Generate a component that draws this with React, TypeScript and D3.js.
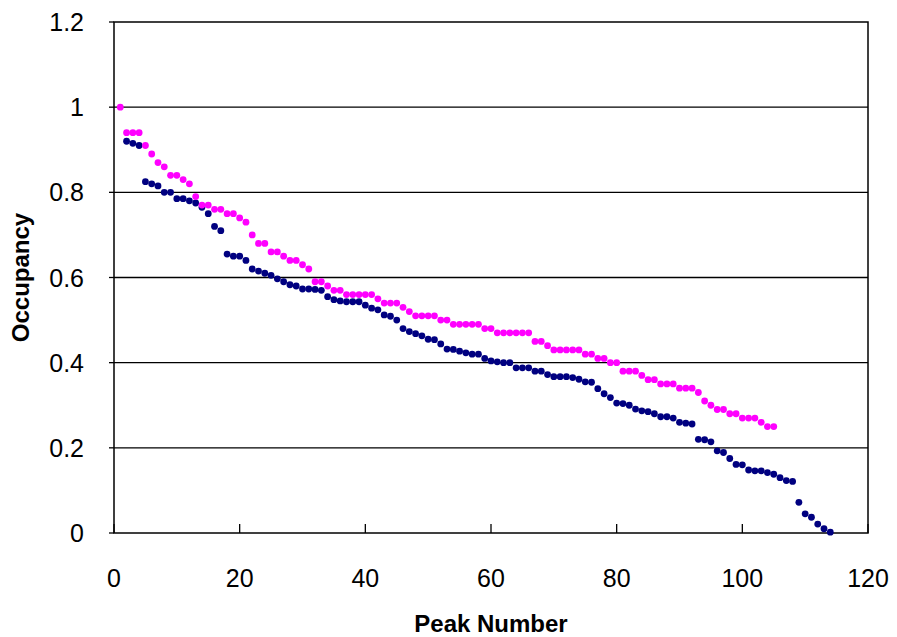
import React from "react";
import { scaleLinear } from "d3";

const width = 897;
const height = 637;

// occupancy of peaks, series 1 (magenta) starts at peak 1
const pinkValues = [
  1.0, 0.94, 0.94, 0.94, 0.91, 0.89, 0.87, 0.86, 0.84, 0.84,
  0.83, 0.82, 0.79, 0.77, 0.77, 0.76, 0.76, 0.75, 0.75, 0.74,
  0.73, 0.7, 0.68, 0.68, 0.66, 0.66, 0.65, 0.64, 0.64, 0.63,
  0.62, 0.59, 0.59, 0.58, 0.57, 0.57, 0.56, 0.56, 0.56, 0.56,
  0.56, 0.55, 0.54, 0.54, 0.54, 0.53, 0.52, 0.51, 0.51, 0.51,
  0.51, 0.5, 0.5, 0.49, 0.49, 0.49, 0.49, 0.49, 0.48, 0.48,
  0.47, 0.47, 0.47, 0.47, 0.47, 0.47, 0.45, 0.45, 0.44, 0.43,
  0.43, 0.43, 0.43, 0.43, 0.42, 0.42, 0.41, 0.41, 0.4, 0.4,
  0.38, 0.38, 0.38, 0.37, 0.36, 0.36, 0.35, 0.35, 0.35, 0.34,
  0.34, 0.34, 0.33, 0.31, 0.3, 0.29, 0.29, 0.28, 0.28, 0.27,
  0.27, 0.27, 0.26, 0.25, 0.25,
];

// series 2 (navy) starts at peak 2
const navyValues = [
  0.92, 0.915, 0.91, 0.825, 0.82, 0.815, 0.8, 0.8, 0.785,
  0.785, 0.78, 0.775, 0.765, 0.75, 0.72, 0.71, 0.655, 0.65, 0.65,
  0.64, 0.62, 0.615, 0.61, 0.605, 0.597, 0.59, 0.583, 0.58, 0.573,
  0.573, 0.572, 0.57, 0.555, 0.548, 0.545, 0.543, 0.543, 0.543, 0.535,
  0.528, 0.524, 0.512, 0.509, 0.5, 0.48, 0.473, 0.468, 0.463, 0.455,
  0.454, 0.444, 0.432, 0.431, 0.427, 0.423, 0.42, 0.42, 0.41, 0.404,
  0.402, 0.4, 0.4, 0.388, 0.388, 0.388, 0.38, 0.38, 0.372, 0.367,
  0.367, 0.367, 0.365, 0.361, 0.355, 0.354, 0.339, 0.327, 0.318, 0.305,
  0.304, 0.3, 0.291, 0.287, 0.285, 0.28, 0.273, 0.273, 0.27, 0.26,
  0.258, 0.256, 0.22, 0.219, 0.214, 0.193, 0.189, 0.175, 0.161, 0.16,
  0.148, 0.146, 0.146, 0.142, 0.138, 0.13, 0.123, 0.121, 0.072, 0.045,
  0.037, 0.021, 0.01, 0.002,
];

const xTicks = [0, 20, 40, 60, 80, 100, 120];
const yTicks = [0, 0.2, 0.4, 0.6, 0.8, 1, 1.2];

const pinkData = pinkValues.map((v, i) => ({ peak: i + 1, value: v }));
const navyData = navyValues.map((v, i) => ({ peak: i + 2, value: v }));

const App = () => {
  const margin = { top: 22, right: 29, bottom: 104, left: 114 };
  const x = scaleLinear()
    .domain([0, 120])
    .range([margin.left, width - margin.right]);
  const y = scaleLinear()
    .domain([0, 1.2])
    .range([height - margin.bottom, margin.top]);

  const font = "Liberation Sans, Arial, sans-serif";
  const [x0, x1] = x.range();
  const [y0, y1] = y.range();

  return (
    <svg
      width={width}
      height={height}
      style={{ position: "absolute", left: 0, top: 0, background: "#fff" }}
    >
      {/* grid lines */}
      {yTicks.slice(1, -1).map((t) => (
        <line key={t} x1={x0} x2={x1} y1={y(t)} y2={y(t)} stroke="#000" strokeWidth={1.3} />
      ))}
      {/* y ticks (outside) */}
      {yTicks.map((t) => (
        <line key={"yt" + t} x1={x0 - 5} x2={x0} y1={y(t)} y2={y(t)} stroke="#000" strokeWidth={1.3} />
      ))}
      {/* x ticks (inside) */}
      {xTicks.map((t) => (
        <line key={"xt" + t} x1={x(t)} x2={x(t)} y1={y0} y2={y0 - 9} stroke="#000" strokeWidth={1.3} />
      ))}
      <rect x={x0} y={y1} width={x1 - x0} height={y0 - y1} fill="none" stroke="#000" strokeWidth={1.5} />

      {/* tick labels */}
      {yTicks.map((t) => (
        <text key={"yl" + t} x={84} y={y(t)} dy="0.36em" textAnchor="end" fontFamily={font} fontSize={25}>
          {t}
        </text>
      ))}
      {xTicks.map((t) => (
        <text key={"xl" + t} x={x(t)} y={587} textAnchor="middle" fontFamily={font} fontSize={25}>
          {t}
        </text>
      ))}

      {/* axis titles */}
      <text x={(x0 + x1) / 2} y={632} textAnchor="middle" fontFamily={font} fontWeight="bold" fontSize={24}>
        Peak Number
      </text>
      <text
        transform={`translate(29, ${(y0 + y1) / 2}) rotate(-90)`}
        textAnchor="middle"
        fontFamily={font}
        fontWeight="bold"
        fontSize={24}
      >
        Occupancy
      </text>

      {/* points */}
      <g fill="#000080">
        {navyData.map((d) => (
          <circle key={d.peak} cx={x(d.peak)} cy={y(d.value)} r={3.4} />
        ))}
      </g>
      <g fill="#FF00FF">
        {pinkData.map((d) => (
          <circle key={d.peak} cx={x(d.peak)} cy={y(d.value)} r={3.4} />
        ))}
      </g>
    </svg>
  );
};

export default App;
